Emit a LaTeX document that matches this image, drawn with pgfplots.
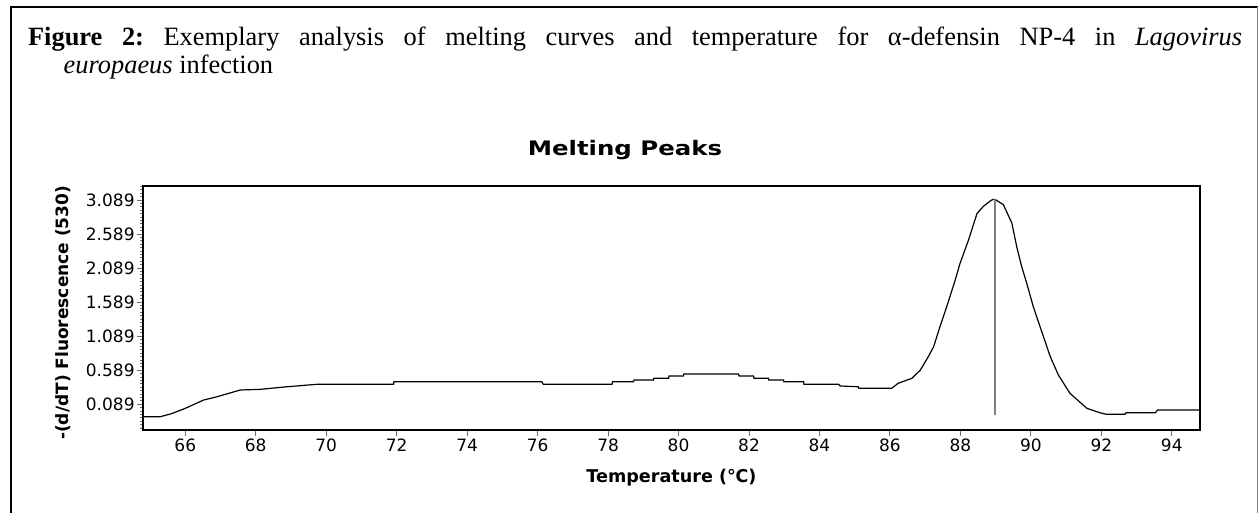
\documentclass[border=0pt]{standalone}
\usepackage{pgfplots}
\pgfplotsset{compat=1.18}
\usepackage{fontspec}
\setmainfont{Liberation Serif}
\newfontfamily\chartfont{DejaVu Sans}
\newfontfamily\titlefont[FakeStretch=1.22]{DejaVu Sans}

\pgfplotstableread{
x y
64.82 -0.093
65.29 -0.093
65.60 -0.050
66.00 0.030
66.52 0.152
66.90 0.200
67.56 0.299
68.13 0.309
68.89 0.347
69.74 0.383
71.91 0.383
71.92 0.421
76.12 0.421
76.16 0.383
78.11 0.383
78.13 0.421
78.72 0.421
78.74 0.446
79.29 0.446
79.30 0.471
79.72 0.471
79.73 0.505
80.14 0.505
80.15 0.534
81.70 0.534
81.72 0.505
82.13 0.505
82.14 0.471
82.55 0.471
82.56 0.446
82.98 0.446
82.99 0.421
83.55 0.421
83.56 0.383
84.54 0.383
84.59 0.358
85.10 0.347
85.12 0.324
86.05 0.324
86.23 0.397
86.62 0.470
86.86 0.590
87.09 0.790
87.24 0.935
87.42 1.230
87.61 1.520
87.85 1.910
87.99 2.160
88.23 2.500
88.47 2.890
88.66 3.000
88.89 3.090
88.98 3.100
89.22 3.020
89.46 2.750
89.60 2.400
89.74 2.110
89.88 1.870
90.07 1.520
90.26 1.230
90.55 0.790
90.78 0.520
91.11 0.250
91.59 0.030
91.96 -0.035
92.15 -0.058
92.67 -0.058
92.70 -0.035
93.53 -0.035
93.60 0.005
94.80 0.005
}\curve

\begin{document}
\begin{tikzpicture}
\useasboundingbox (0,0) rectangle (630pt,256.5pt);
\fill[white] (0,0) rectangle (630pt,256.5pt);
\draw[line width=1pt, black] (5.5pt,0) -- (5.5pt,252.75pt) -- (628.75pt,252.75pt);
\draw[line width=0.8pt, gray] (628.75pt,252.75pt) -- (628.75pt,0);
\node[anchor=base west, inner sep=0pt] at (13.85pt,233.65pt) {\parbox[t]{607pt}{\frenchspacing\fontsize{13.2pt}{14.15pt}\selectfont\hangindent=17.8pt\hangafter=1\textbf{Figure 2:} Exemplary analysis of melting curves and temperature for α-defensin NP-4 in \textit{Lagovirus}\linebreak \textit{europaeus} infection}};
\begin{axis}[
  at={(71.5pt,41.5pt)}, anchor=south west,
  scale only axis, width=528.5pt, height=122pt,
  xmin=64.8, xmax=94.8, ymin=-0.288, ymax=3.295,
  xtick={66,68,...,94},
  ytick={0.089,0.589,1.089,1.589,2.089,2.589,3.089},
  yticklabels={0.089,0.589,1.089,1.589,2.089,2.589,3.089},
  minor ytick={-0.261,-0.211,...,3.29},
  tick align=outside, tick pos=left,
  axis line style={line width=0.9pt, black},
  major tick length=3pt, minor tick length=1.6pt,
  every tick/.style={gray!85!black, line width=0.5pt},
  ticklabel style={font=\chartfont\fontsize{8.5pt}{10pt}\selectfont},
  yticklabel style={anchor=east, inner sep=0pt, xshift=-1pt},
  xticklabel style={anchor=base, inner sep=0pt, yshift=-8pt},
  /pgf/number format/assume math mode=true,
  xlabel={Temperature (℃)},
  xlabel style={at={(axis description cs:0.5,-0.1967)}, anchor=center, font=\chartfont\bfseries\fontsize{8.8pt}{10pt}\selectfont},
  ylabel={-(d/dT) Fluorescence (530)},
  ylabel style={at={(axis description cs:-0.0757,0.48)}, anchor=center, font=\chartfont\bfseries\fontsize{8.5pt}{10pt}\selectfont},
  clip=false,
]
\addplot[black, line width=0.6pt] table[x=x,y=y] {\curve};
\addplot[gray, line width=0.6pt] coordinates {(88.98,-0.068) (88.98,3.10)};
\node[anchor=base, font=\titlefont\bfseries\fontsize{10pt}{12pt}\selectfont] at (axis description cs:0.456,1.127) {Melting Peaks};
\end{axis}
\end{tikzpicture}
\end{document}
